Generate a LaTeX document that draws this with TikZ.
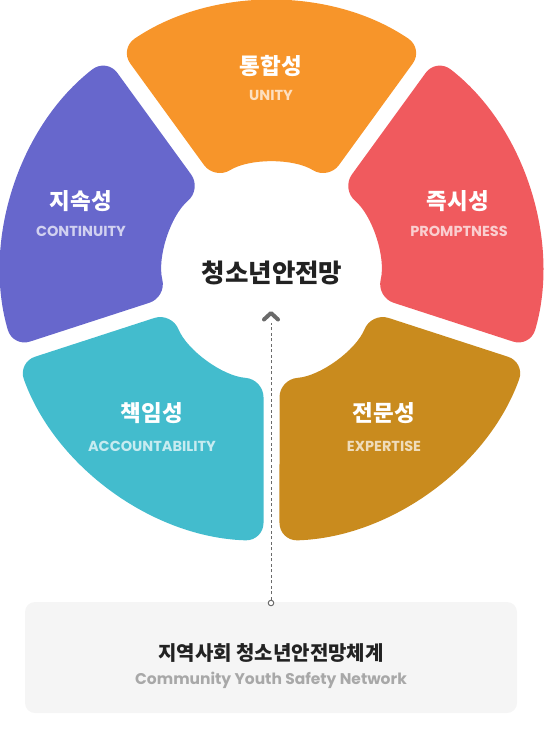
\documentclass[tikz,border=0pt]{standalone}
\usepackage{fontspec}
\newfontfamily\krfont{Noto Sans CJK KR}
\newfontfamily\enfont{Poppins}
\usetikzlibrary{calc}

\definecolor{unityc}{HTML}{F7952A}
\definecolor{contc}{HTML}{6767CC}
\definecolor{promptc}{HTML}{F05A5E}
\definecolor{accc}{HTML}{43BCCD}
\definecolor{expc}{HTML}{C98B1E}
\definecolor{boxgray}{HTML}{F5F5F5}
\definecolor{darktext}{HTML}{222222}
\definecolor{subgray}{HTML}{A8A8A8}
\definecolor{pointgray}{HTML}{6A6A6A}

\tikzset{
  ktitle/.style={text=white,inner sep=0pt,font=\krfont\bfseries\fontsize{22.5}{26}\selectfont},
  etitle/.style={inner sep=0pt,font=\enfont\bfseries\fontsize{14.5}{17}\selectfont},
}

% one rounded piece of the ring: centre angle, colour
\newcommand{\ringpiece}[2]{%
  \fill[#2,rounded corners=18pt]
    ($(ctr)+(#1-36+2.41:190)$) -- ($(ctr)+(#1-36+1.70:269.5)$)
    arc[start angle=#1-36+1.70,end angle=#1+36-1.70,radius=269.5]
    -- ($(ctr)+(#1+36-4.25:108)$)
    arc[start angle=#1+36-4.25,end angle=#1-36+4.25,radius=108]
    -- cycle;
}

\begin{document}
\begin{tikzpicture}[x=1pt,y=-1pt]
\path[use as bounding box] (0,0) rectangle (545,747);
\coordinate (ctr) at (271.5,271.5);

% ring
\ringpiece{270}{unityc}
\ringpiece{198}{contc}
\ringpiece{342}{promptc}
\ringpiece{126}{accc}
\ringpiece{54}{expc}

% labels
\node[ktitle] (unity) at (271,66) {통합성};
\node[etitle,text=white!70!unityc] (unityen) at (271,95) {UNITY};
\node[ktitle] (cont) at (81,201) {지속성};
\node[etitle,text=white!70!contc] (conten) at (81,231) {CONTINUITY};
\node[ktitle] (prompt) at (458,201) {즉시성};
\node[etitle,text=white!70!promptc] (prompten) at (459,231) {PROMPTNESS};
\node[ktitle] (acc) at (152,413) {책임성};
\node[etitle,text=white!70!accc] (accen) at (152,446) {ACCOUNTABILITY};
\node[ktitle] (exp) at (384,413) {전문성};
\node[etitle,text=white!70!expc] (expen) at (384,446) {EXPERTISE};

\node[inner sep=0pt,text=darktext,font=\krfont\bfseries\fontsize{25.5}{30}\selectfont] (hub) at (272,273) {청소년안전망};

% bottom box
\fill[boxgray,rounded corners=10pt] (25,602) rectangle (517,713);
\node[inner sep=0pt,text=darktext,font=\krfont\bfseries\fontsize{20}{24}\selectfont] (net) at (271,653) {지역사회 청소년안전망체계};
\node[inner sep=0pt,text=subgray,font=\enfont\bfseries\fontsize{15.5}{19}\selectfont] (neten) at (271,680) {Community Youth Safety Network};

% pointer
\coordinate (chev) at (271,313);
\node[circle,draw=pointgray,line width=1pt,fill=white,inner sep=0pt,minimum size=5.5pt] (dot) at (271,603) {};
\draw[pointgray,line width=1pt,dash pattern=on 3pt off 2.5pt] (dot.north) -- ($(chev)+(0,10)$);
\draw[pointgray,line width=4pt,line cap=round,line join=round]
  ($(chev)+(-7,6.5)$) -- (chev) -- ($(chev)+(7,6.5)$);
\end{tikzpicture}
\end{document}
